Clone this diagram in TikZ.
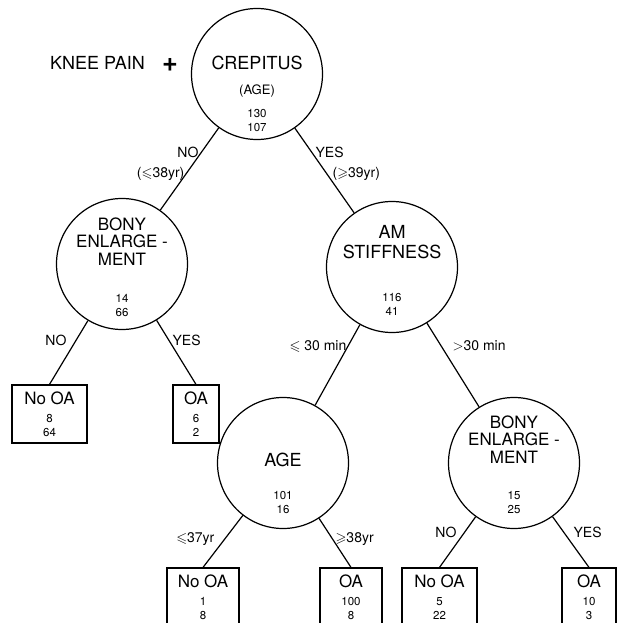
\documentclass[tikz,border=0pt]{standalone}
\usepackage{amssymb}
\usepackage{fontspec}
\setmainfont{TeX Gyre Heros}
\usetikzlibrary{calc}

\begin{document}
\begin{tikzpicture}[x=1pt, y=-1pt, line width=1.2pt, every node/.style={inner sep=0pt},
  test/.style={draw, circle, minimum size=131pt},
  leaf/.style={draw, rectangle, minimum height=58pt, align=center, font=\fontsize{11.5}{14}\selectfont},
  head/.style={font=\fontsize{18}{20}\selectfont, align=center},
  bony/.style={font=\fontsize{17}{17.5}\selectfont, align=center},
  sub/.style={font=\fontsize{13}{14}\selectfont},
  cnt/.style={font=\fontsize{11.5}{14}\selectfont, align=center},
  lbl/.style={font=\fontsize{14}{16}\selectfont}]
  \useasboundingbox (0,0) rectangle (617,623);
  \clip (0,0) rectangle (617,623);
  % title
  \node[head, anchor=base] (knee) at (97.5,70) {KNEE PAIN};
  \node[font=\fontsize{27}{27}\selectfont\bfseries, anchor=base] (plus) at (170,72) {+};
  % test nodes
  \node[test] (crep) at (257,74) {};
  \node[head, anchor=north] (crepH) at ($(crep)+(0,-19)$) {CREPITUS};
  \node[sub, anchor=north] (crepS) at ($(crep)+(0,10)$) {(AGE)};
  \node[cnt, anchor=north] (crepC) at ($(crep)+(0,35)$) {130\\107};
  \node[test] (bonyL) at (122,264) {};
  \node[bony, anchor=north] (bonyLH) at ($(bonyL)+(0,-47)$) {BONY\\ENLARGE -\\MENT};
  \node[cnt, anchor=north] (bonyLC) at ($(bonyL)+(0,30)$) {14\\66};
  \node[test] (stiff) at (392,267) {};
  \node[head, anchor=north] (stiffH) at ($(stiff)+(0,-42)$) {AM\\STIFFNESS};
  \node[cnt, anchor=north] (stiffC) at ($(stiff)+(0,26)$) {116\\41};
  \node[test] (age) at (283,463) {};
  \node[head, anchor=north] (ageH) at ($(age)+(0,-11)$) {AGE};
  \node[cnt, anchor=north] (ageC) at ($(age)+(0,28)$) {101\\16};
  \node[test] (bonyR) at (514,463) {};
  \node[bony, anchor=north] (bonyRH) at ($(bonyR)+(0,-48)$) {BONY\\ENLARGE -\\MENT};
  \node[cnt, anchor=north] (bonyRC) at ($(bonyR)+(0,28)$) {15\\25};
  % leaves
  \node[leaf, minimum width=75pt] (noA) at (49.5,414) {{\fontsize{17}{17}\selectfont No OA}\\[4pt]8\\64};
  \node[leaf, minimum width=46pt] (oaA) at (196,414) {{\fontsize{17}{17}\selectfont OA}\\[4pt]6\\2};
  \node[leaf, minimum width=72pt] (noB) at (203,597) {{\fontsize{17}{17}\selectfont No OA}\\[4pt]1\\8};
  \node[leaf, minimum width=62pt] (oaB) at (351,597) {{\fontsize{17}{17}\selectfont OA}\\[4pt]100\\8};
  \node[leaf, minimum width=75pt] (noC) at (439.5,597) {{\fontsize{17}{17}\selectfont No OA}\\[4pt]5\\22};
  \node[leaf, minimum width=54pt] (oaC) at (589,597) {{\fontsize{17}{17}\selectfont OA}\\[4pt]10\\3};
  % branches
  \draw (crep) -- (bonyL);
  \draw (crep) -- (stiff);
  \draw (bonyL) -- (noA.north);
  \draw (bonyL) -- (oaA.north);
  \draw (stiff) -- (age);
  \draw (stiff) -- (bonyR);
  \draw (age) -- (noB.north);
  \draw (age) -- (oaB.north);
  \draw (bonyR) -- (noC.north);
  \draw (bonyR) -- (oaC.north);
  % branch labels
  \node[lbl, anchor=base east] (crepNo) at (199,157) {NO};
  \node[lbl, anchor=base east] (crepNoAge) at (185,177) {($\leqslant$38yr)};
  \node[lbl, anchor=base west] (crepYes) at (315,157) {YES};
  \node[lbl, anchor=base west] (crepYesAge) at (332,177) {($\geqslant$39yr)};
  \node[lbl, anchor=base east] (bonyLNo) at (67,345) {NO};
  \node[lbl, anchor=base west] (bonyLYes) at (172,345) {YES};
  \node[lbl, anchor=base east] (stiffLo) at (347,350) {$\leqslant$ 30 min};
  \node[lbl, anchor=base west] (stiffHi) at (452,350) {$>$30 min};
  \node[lbl, anchor=base east] (ageLo) at (215,542) {$\leqslant$37yr};
  \node[lbl, anchor=base west] (ageHi) at (335,542) {$\geqslant$38yr};
  \node[lbl, anchor=base east] (bonyRNo) at (457,537) {NO};
  \node[lbl, anchor=base west] (bonyRYes) at (573,537) {YES};
\end{tikzpicture}
\end{document}
